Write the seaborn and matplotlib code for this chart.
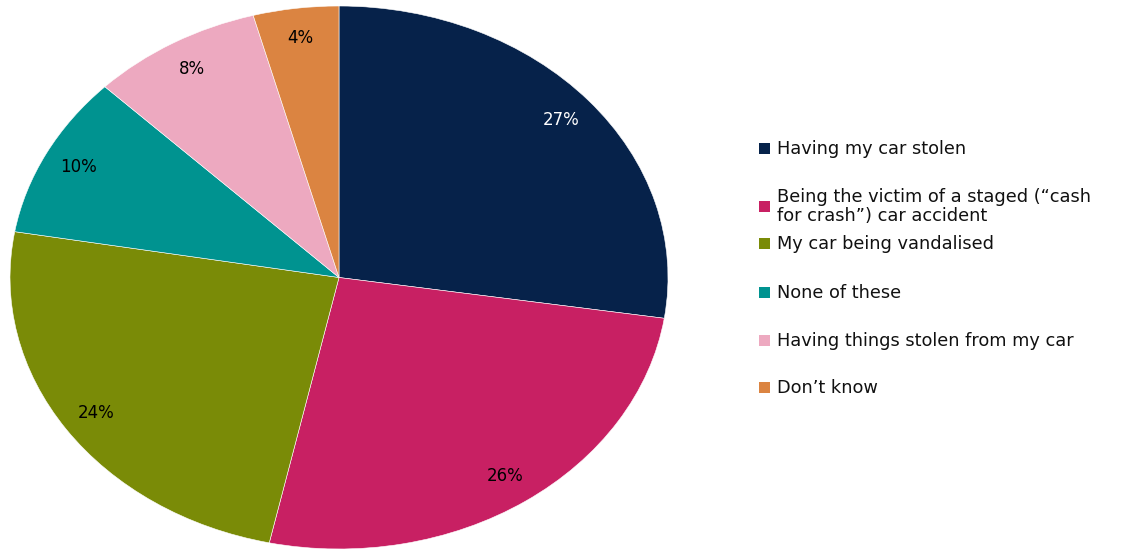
import matplotlib
matplotlib.use("Agg")
import matplotlib.pyplot as plt
import seaborn as sns
from matplotlib.patches import Rectangle

sns.set_theme(style="white")
plt.rcParams['font.family'] = ['DejaVu Sans']

# Data
categories = [
    "Having my car stolen",
    "Being the victim of a staged (\u201ccash\nfor crash\u201d) car accident",
    "My car being vandalised",
    "None of these",
    "Having things stolen from my car",
    "Don\u2019t know",
]
values = [27.4, 26.0, 24.3, 9.7, 8.4, 4.2]
pct_labels = ["27%", "26%", "24%", "10%", "8%", "4%"]
colors = ["#06224A", "#C82063", "#7A8B07", "#009390", "#EDA9C0", "#DB8441"]
label_colors = ["white", "black", "black", "black", "black", "black"]

W, H = 1137, 549
fig = plt.figure(figsize=(W / 100, H / 100), dpi=100)
# axes spans the elliptical pie area
ax = fig.add_axes([10 / W, 0 / H, 658 / W, 543 / H])

wedges, texts = ax.pie(values, colors=colors, startangle=90, counterclock=False,
                       wedgeprops=dict(edgecolor="white", linewidth=0.4),
                       labels=pct_labels, labeldistance=0.89,
                       textprops=dict(fontsize=12, ha="center", va="center"))
for t, c in zip(texts, label_colors):
    t.set_color(c)
    t.set_ha("center")
ax.set_aspect("auto")
ax.set_xlim(-1, 1)
ax.set_ylim(-1, 1)
ax.axis("off")

# legend laid out by hand to mimic the original spacing
legend_y = [149, 206.5, 244, 293, 341, 388]
for cat, col, yp in zip(categories, colors, legend_y):
    fig.patches.append(Rectangle((759 / W, 1 - (yp + 5) / H), 11 / W, 11 / H,
                                 transform=fig.transFigure, facecolor=col,
                                 edgecolor="none"))
    fig.text(777 / W, 1 - yp / H, cat, fontsize=12.8, va="center", ha="left",
             color="#111111", linespacing=1.1)

fig.savefig("out.png", dpi=100)
